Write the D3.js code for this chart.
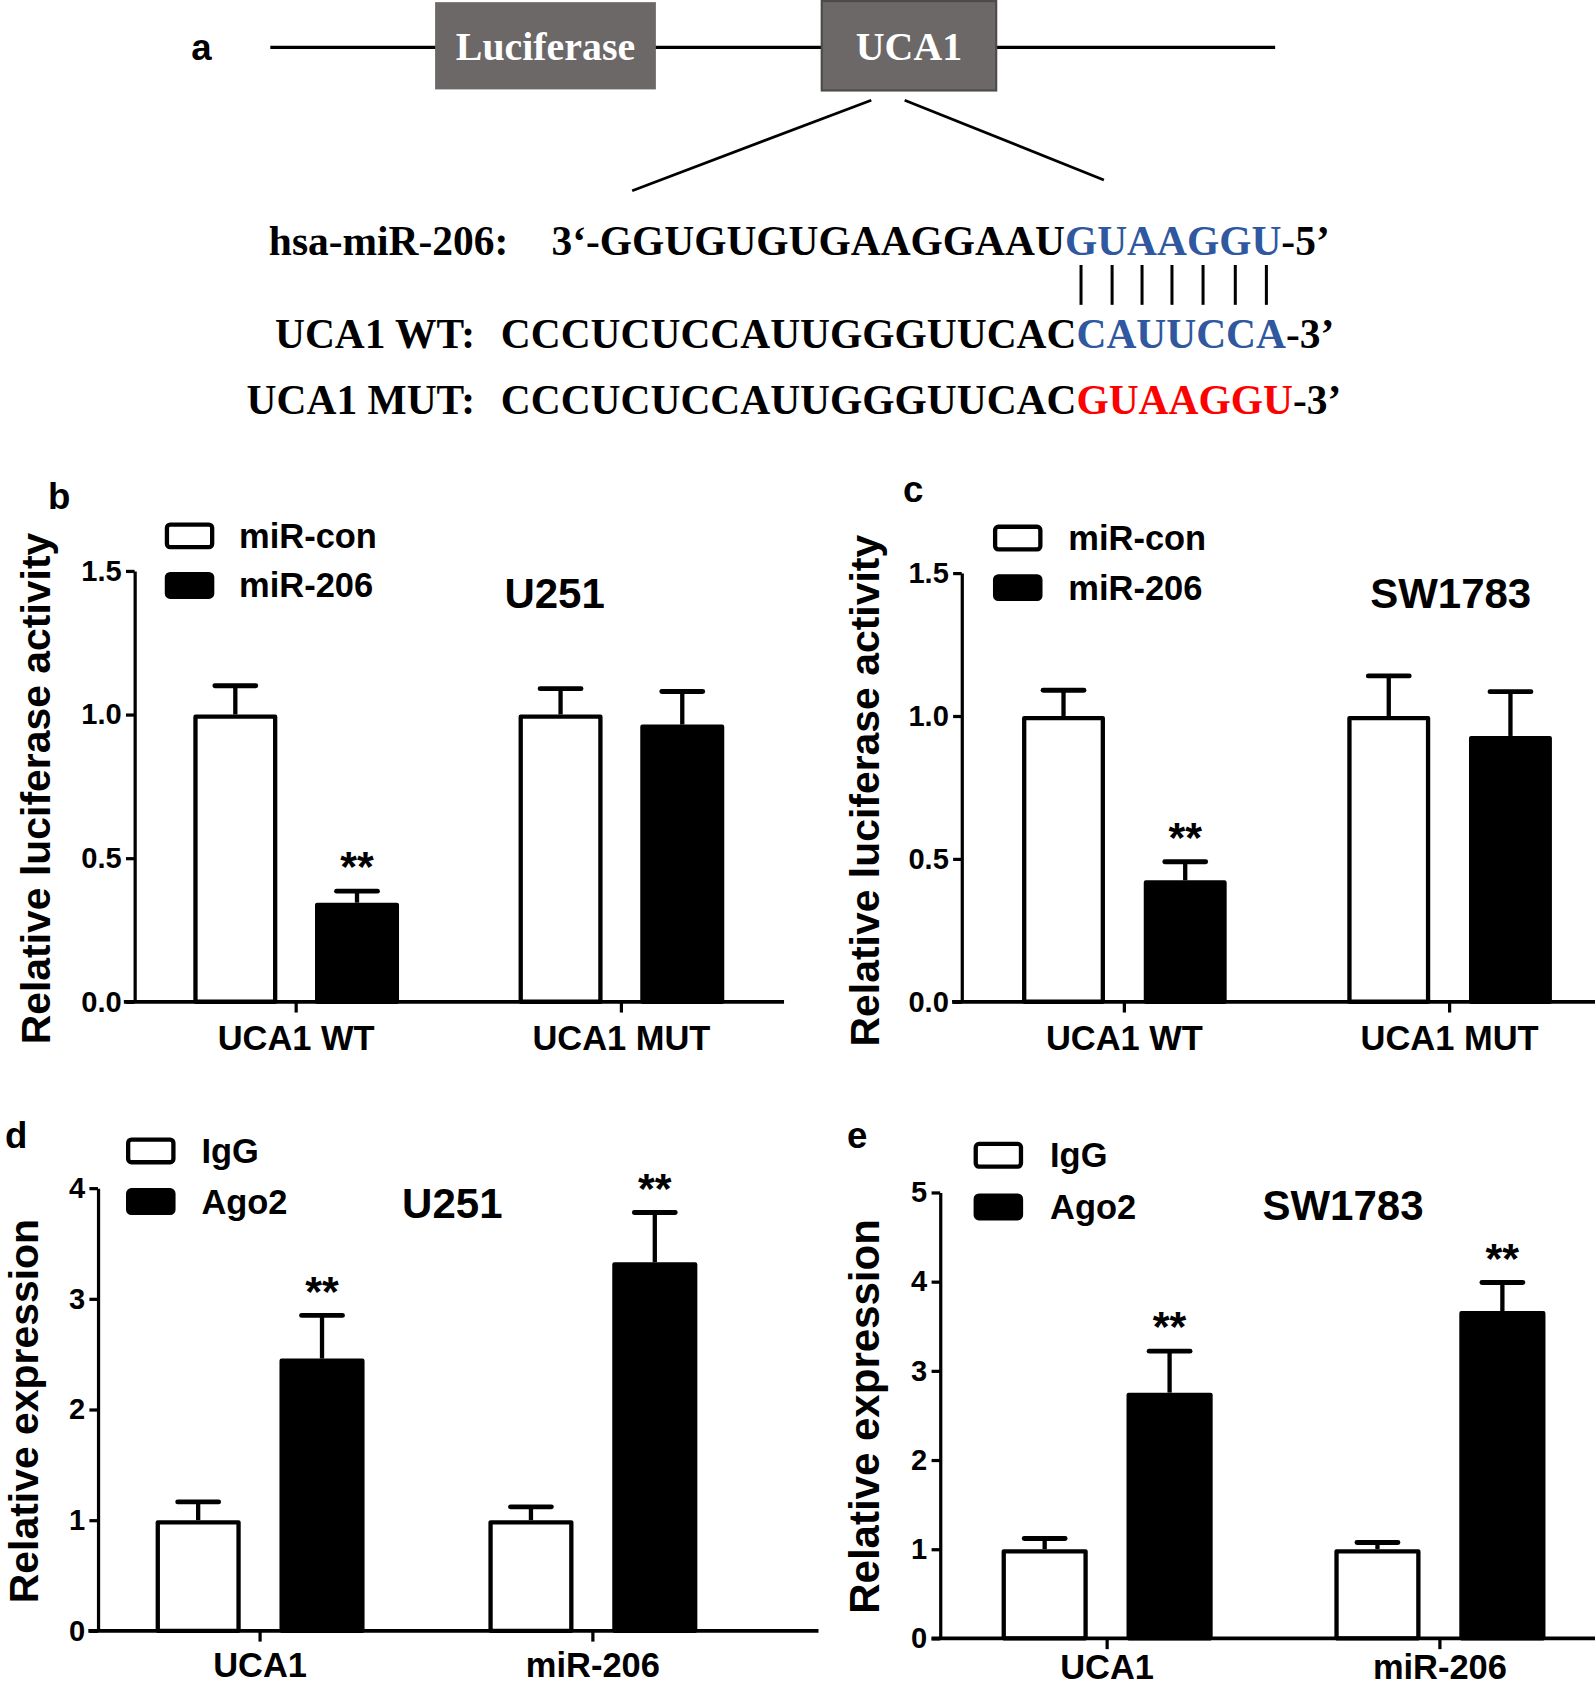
<!DOCTYPE html>
<html><head><meta charset="utf-8">
<script src="https://cdn.jsdelivr.net/npm/d3@7"></script>
<style>html,body{margin:0;padding:0;background:#fff;} svg{display:block;}</style>
</head><body>
<script>
// ---------- Panel a: construct + sequences ----------
const constructParts = ["Luciferase", "UCA1"];
const mirLabel = "hsa-miR-206:";
const mirSeqHead = "3\u2018-GGUGUGUGAAGGAAU";
const mirSeqSeed = "GUAAGGU";
const mirSeqTail = "-5\u2019";
const wtLabel = "UCA1 WT:";
const mutLabel = "UCA1 MUT:";
const targetHead = "CCCUCUCCAUUGGGUUCAC";
const wtSite = "CAUUCCA";
const mutSite = "GUAAGGU";
const targetTail = "-3\u2019";

// ---------- Panel b: luciferase, U251 ----------
const lucCategories = ["UCA1 WT", "UCA1 MUT"];
const lucSeries = ["miR-con", "miR-206"];
const u251LucCon = [1.0, 1.0];
const u251LucConErr = [0.10, 0.09];
const u251Luc206 = [0.345, 0.965];
const u251Luc206Err = [0.04, 0.115];
// ---------- Panel c: luciferase, SW1783 ----------
const swLucCon = [1.0, 1.0];
const swLucConErr = [0.09, 0.14];
const swLuc206 = [0.425, 0.93];
const swLuc206Err = [0.065, 0.155];
const lucTicks = [0, 0.5, 1.0, 1.5];
const lucStars = [["", ""], ["**", ""]];

// ---------- Panel d: RIP, U251 ----------
const ripCategories = ["UCA1", "miR-206"];
const ripSeries = ["IgG", "Ago2"];
const u251IgG = [1.0, 1.0];
const u251IgGErr = [0.165, 0.12];
const u251Ago2 = [2.46, 3.33];
const u251Ago2Err = [0.39, 0.45];
const u251RipTicks = [0, 1, 2, 3, 4];
// ---------- Panel e: RIP, SW1783 ----------
const swIgG = [1.0, 1.0];
const swIgGErr = [0.12, 0.075];
const swAgo2 = [2.755, 3.67];
const swAgo2Err = [0.465, 0.32];
const swRipTicks = [0, 1, 2, 3, 4, 5];
const ripStars = [["", ""], ["**", "**"]];

const SANS = "'Liberation Sans', Arial, Helvetica, sans-serif";
const SERIF = "'Liberation Serif', 'Times New Roman', Times, serif";
const BLUE = "#2f58a0", RED = "#ff0000", BOXGRAY = "#6c6868";

const svg = d3.select("body").append("svg")
  .attr("width", 1595).attr("height", 1689)
  .attr("viewBox", "0 0 1481 1568")
  .attr("preserveAspectRatio", "none");

// ================= Panel a =================
(function () {
  const g = svg.append("g");
  g.append("text").attr("x", 187).attr("y", 44).attr("text-anchor", "middle")
    .attr("dominant-baseline", "central").style("font-family", SANS)
    .style("font-weight", "bold").style("font-size", "34px").text("a");
  g.append("line").attr("x1", 251).attr("x2", 1184).attr("y1", 44).attr("y2", 44)
    .attr("stroke", "#000").attr("stroke-width", 3);
  const boxes = [
    {x0: 404, x1: 609, y0: 2, y1: 83},
    {x0: 763, x1: 925, y0: 1, y1: 84}
  ];
  constructParts.forEach((name, i) => {
    const b = boxes[i];
    g.append("rect").attr("x", b.x0).attr("y", b.y0).attr("width", b.x1 - b.x0)
      .attr("height", b.y1 - b.y0).attr("fill", BOXGRAY)
      .attr("stroke", i === 1 ? "#4d4a4a" : "none").attr("stroke-width", 2);
    g.append("text").attr("x", (b.x0 + b.x1) / 2).attr("y", (b.y0 + b.y1) / 2 + 1)
      .attr("text-anchor", "middle").attr("dominant-baseline", "central")
      .style("font-family", SERIF).style("font-weight", "bold").style("font-size", "37px")
      .attr("fill", "#fff").text(name);
  });
  g.append("line").attr("x1", 809).attr("y1", 93).attr("x2", 587).attr("y2", 177)
    .attr("stroke", "#000").attr("stroke-width", 2.5);
  g.append("line").attr("x1", 840).attr("y1", 93).attr("x2", 1025).attr("y2", 167)
    .attr("stroke", "#000").attr("stroke-width", 2.5);

  const fs = "38.5px";
  function label(txt, xEnd, yb) {
    g.append("text").attr("x", xEnd).attr("y", yb).attr("text-anchor", "end")
      .style("font-family", SERIF).style("font-weight", "bold").style("font-size", fs).text(txt);
  }
  function seq(x, yb, parts) {
    const t = g.append("text").attr("x", x).attr("y", yb)
      .style("font-family", SERIF).style("font-weight", "bold").style("font-size", fs)
      .attr("xml:space", "preserve");
    parts.forEach(p => t.append("tspan").attr("fill", p[1]).text(p[0]));
    return t;
  }
  label(mirLabel, 472, 237);
  const mirText = seq(512, 237, [[mirSeqHead, "#000"], [mirSeqSeed, BLUE], [mirSeqTail, "#000"]]);
  label(wtLabel, 441, 323);
  seq(465, 323, [[targetHead, "#000"], [wtSite, BLUE], [targetTail, "#000"]]);
  label(mutLabel, 441, 384);
  seq(465, 384, [[targetHead, "#000"], [mutSite, RED], [targetTail, "#000"]]);

  // pairing bars under each seed base
  const node = mirText.node();
  const idx = d3.range(mirSeqSeed.length).map(i => mirSeqHead.length + i);
  const centers = idx.map(i => { const e = node.getExtentOfChar(i); return e.x + e.width / 2; });
  g.selectAll("line.pair").data(centers).join("line").attr("class", "pair")
    .attr("x1", d => d).attr("x2", d => d).attr("y1", 246).attr("y2", 283)
    .attr("stroke", "#000").attr("stroke-width", 2.8);
})();

// ================= Bar panels =================
function panel(p) {
  const g = svg.append("g");
  const y = d3.scaleLinear().domain(p.yDomain).range(p.yRange);
  const x0 = d3.scaleBand().domain(p.categories).range(p.xRange).padding(0);
  const bw = x0.bandwidth();
  const x1 = d3.scaleBand().domain(p.series)
    .range([bw / 2 - p.off - p.barW / 2, bw / 2 + p.off + p.barW / 2])
    .paddingInner(1 - p.barW / (2 * p.off)).paddingOuter(0);

  const rows = [];
  p.series.forEach((s, j) => p.categories.forEach((c, i) => {
    rows.push({s, c, j, v: p.values[j][i], e: p.errors[j][i], star: p.stars[j][i]});
  }));

  // error bars
  const eb = g.append("g");
  rows.forEach(d => {
    const cx = x0(d.c) + x1(d.s) + x1.bandwidth() / 2;
    eb.append("line").attr("x1", cx).attr("x2", cx).attr("y1", y(d.v)).attr("y2", y(d.v + d.e))
      .attr("stroke", "#000").attr("stroke-width", 4);
    eb.append("line").attr("x1", cx - 19).attr("x2", cx + 19).attr("y1", y(d.v + d.e)).attr("y2", y(d.v + d.e))
      .attr("stroke", "#000").attr("stroke-width", 4.5).attr("stroke-linecap", "round");
    if (d.star) {
      g.append("text").attr("x", cx).attr("y", y(d.v + d.e) - 9).attr("text-anchor", "middle")
        .style("font-family", SANS).style("font-weight", "bold").style("font-size", "40px").text(d.star);
    }
  });

  // bars
  g.append("g").selectAll("rect").data(rows).join("rect")
    .attr("x", d => x0(d.c) + x1(d.s) + 2)
    .attr("y", d => y(d.v) + 2)
    .attr("width", x1.bandwidth() - 4)
    .attr("height", d => y(0) - y(d.v) - 2)
    .attr("fill", d => d.j === 0 ? "#fff" : "#000")
    .attr("stroke", "#000").attr("stroke-width", 4).attr("stroke-linejoin", "round");

  // y axis
  const ya = g.append("g").attr("transform", `translate(${p.axisX},0)`)
    .call(d3.axisLeft(y).tickValues(p.ticks).tickFormat(p.fmt).tickSize(8).tickSizeOuter(0).tickPadding(4));
  ya.select(".domain").attr("stroke-width", 3);
  ya.selectAll(".tick line").attr("stroke-width", 3);
  ya.selectAll(".tick text").style("font-family", SANS).style("font-weight", "bold")
    .style("font-size", "27px").attr("fill", "#000");

  // x axis
  const xa = g.append("g").attr("transform", `translate(0,${y(0)})`)
    .call(d3.axisBottom(x0).tickSize(10).tickSizeOuter(0).tickPadding(p.xPad));
  xa.select(".domain").remove();
  xa.selectAll(".tick line").attr("stroke-width", 3);
  xa.selectAll(".tick text").style("font-family", SANS).style("font-weight", "bold")
    .style("font-size", "32px").attr("fill", "#000");
  g.append("line").attr("x1", p.xLine[0]).attr("x2", p.xLine[1]).attr("y1", y(0)).attr("y2", y(0))
    .attr("stroke", "#000").attr("stroke-width", 3.5);

  // y title
  g.append("text").attr("transform", `translate(${p.yTitleX},${p.yTitleY}) rotate(-90)`)
    .attr("text-anchor", "middle").attr("dominant-baseline", "central")
    .style("font-family", SANS).style("font-weight", "bold").style("font-size", p.yTitleSize + "px")
    .text(p.yTitle);

  // legend
  p.series.forEach((s, j) => {
    const ly = p.legend.y[j];
    g.append("rect").attr("x", p.legend.x + 2).attr("y", ly + 2).attr("width", 42).attr("height", 21)
      .attr("rx", 3).attr("fill", j === 0 ? "#fff" : "#000").attr("stroke", "#000").attr("stroke-width", 4);
    g.append("text").attr("x", p.legend.tx).attr("y", ly + 12.5).attr("dominant-baseline", "central")
      .style("font-family", SANS).style("font-weight", "bold").style("font-size", "32px").text(s);
  });

  // title & panel letter
  g.append("text").attr("x", p.title.x).attr("y", p.title.y).attr("text-anchor", "middle")
    .attr("dominant-baseline", "central").style("font-family", SANS).style("font-weight", "bold")
    .style("font-size", "39px").text(p.title.text);
  g.append("text").attr("x", p.letter.x).attr("y", p.letter.y).attr("text-anchor", "middle")
    .attr("dominant-baseline", "central").style("font-family", SANS).style("font-weight", "bold")
    .style("font-size", "34px").text(p.letter.text);
}

const fmt1 = d3.format(".1f"), fmt0 = d3.format("d");

panel({
  categories: lucCategories, series: lucSeries,
  values: [u251LucCon, u251Luc206], errors: [u251LucConErr, u251Luc206Err], stars: lucStars,
  yDomain: [0, 1.5], yRange: [930, 530], ticks: lucTicks, fmt: fmt1,
  xRange: [124, 728], off: 56.5, barW: 78, axisX: 125, xLine: [115, 728], xPad: 12,
  yTitle: "Relative luciferase activity", yTitleX: 33, yTitleY: 732, yTitleSize: 38,
  legend: {x: 153, y: [485, 531], tx: 222},
  title: {text: "U251", x: 515, y: 551}, letter: {text: "b", x: 55, y: 461}
});
panel({
  categories: lucCategories, series: lucSeries,
  values: [swLucCon, swLuc206], errors: [swLucConErr, swLuc206Err], stars: lucStars,
  yDomain: [0, 1.5], yRange: [930, 532], ticks: lucTicks, fmt: fmt1,
  xRange: [893, 1497], off: 56.5, barW: 77, axisX: 893, xLine: [884, 1481], xPad: 12,
  yTitle: "Relative luciferase activity", yTitleX: 803, yTitleY: 734, yTitleSize: 38,
  legend: {x: 922, y: [487, 533], tx: 992},
  title: {text: "SW1783", x: 1347, y: 551}, letter: {text: "c", x: 848, y: 454}
});
panel({
  categories: ripCategories, series: ripSeries,
  values: [u251IgG, u251Ago2], errors: [u251IgGErr, u251Ago2Err], stars: ripStars,
  yDomain: [0, 4], yRange: [1514, 1103], ticks: u251RipTicks, fmt: fmt0,
  xRange: [87, 705], off: 57.5, barW: 79, axisX: 91, xLine: [82, 760], xPad: 10,
  yTitle: "Relative expression", yTitleX: 22, yTitleY: 1310, yTitleSize: 38,
  legend: {x: 117, y: [1056, 1103], tx: 187},
  title: {text: "U251", x: 420, y: 1117}, letter: {text: "d", x: 15, y: 1054}
});
panel({
  categories: ripCategories, series: ripSeries,
  values: [swIgG, swAgo2], errors: [swIgGErr, swAgo2Err], stars: ripStars,
  yDomain: [0, 5], yRange: [1521, 1107], ticks: swRipTicks, fmt: fmt0,
  xRange: [873.5, 1491.5], off: 58, barW: 80, axisX: 873, xLine: [865, 1481], xPad: 5,
  yTitle: "Relative expression", yTitleX: 803, yTitleY: 1315, yTitleSize: 39,
  legend: {x: 904, y: [1060, 1108], tx: 975},
  title: {text: "SW1783", x: 1247, y: 1119}, letter: {text: "e", x: 796, y: 1054}
});
</script>
</body></html>
